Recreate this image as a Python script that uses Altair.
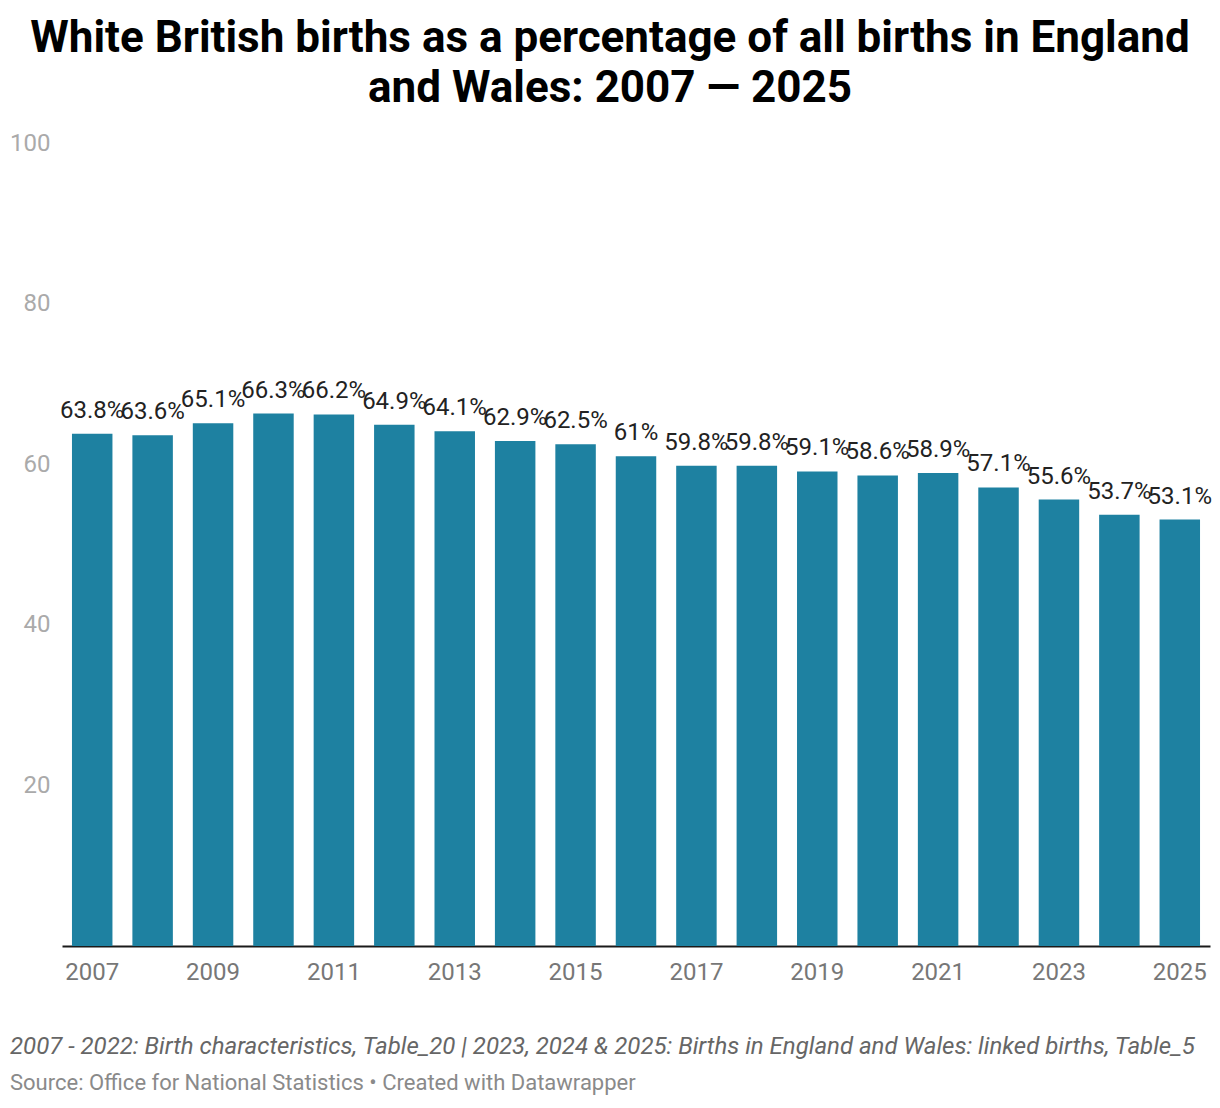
import pandas as pd
import altair as alt

# White British births as % of all births, England and Wales
years = [str(y) for y in range(2007, 2026)]
shares = [63.8, 63.6, 65.1, 66.3, 66.2, 64.9, 64.1, 62.9, 62.5, 61.0,
          59.8, 59.8, 59.1, 58.6, 58.9, 57.1, 55.6, 53.7, 53.1]
year_ticks = [str(y) for y in range(2007, 2026, 2)]
y_ticks = [20, 40, 60, 80, 100]

title_lines = ["White British births as a percentage of all births in England",
               "and Wales: 2007 \u2014 2025"]
note = ("2007 - 2022: Birth characteristics, Table_20 | 2023, 2024 & 2025: "
        "Births in England and Wales: linked births, Table_5")
source = "Source: Office for National Statistics \u2022 Created with Datawrapper"

df = pd.DataFrame({"Year": years, "Share": shares})
df["Label"] = df["Share"].map(lambda v: f"{v:g}%")

FONT = "Roboto"
W, H = 1148, 803

x = alt.X("Year:N", sort=years, title=None,
          scale=alt.Scale(paddingInner=0.33, paddingOuter=0.165),
          axis=alt.Axis(values=year_ticks, labelAngle=0, ticks=False,
                        domainColor="#1a1a1a", domainWidth=2,
                        labelColor="#777777", labelFontSize=24,
                        labelFont=FONT, labelPadding=14))
y = alt.Y("Share:Q", title=None,
          scale=alt.Scale(domain=[0, 100], nice=False),
          axis=alt.Axis(values=y_ticks, grid=False, domain=False, ticks=False,
                        labelColor="#aaaaaa", labelFontSize=24,
                        labelFont=FONT, labelPadding=12))

base = alt.Chart(df).encode(x=x, y=y)

bars = base.mark_bar(color="#1e81a1")

labels = base.mark_text(baseline="alphabetic", dy=-16, fontSize=24,
                        font=FONT, color="#222222").encode(text="Label:N")

note_text = alt.Chart(pd.DataFrame({"t": [note]})).mark_text(
    align="left", baseline="alphabetic", fontSize=24, font=FONT,
    fontStyle="italic", color="#666666"
).encode(text="t:N", x=alt.value(-52), y=alt.value(911))

source_text = alt.Chart(pd.DataFrame({"t": [source]})).mark_text(
    align="left", baseline="alphabetic", fontSize=22, font=FONT,
    color="#8a8a8a"
).encode(text="t:N", x=alt.value(-52), y=alt.value(947))

chart = alt.layer(bars, labels, note_text, source_text).properties(
    width=W,
    height=H,
    autosize=alt.AutoSizeParams(type="none"),
    padding={"left": 54, "top": 135, "right": 2, "bottom": 150},
    title=alt.Title(title_lines, anchor="middle", fontSize=44, font=FONT,
                    fontWeight="bold", color="#000000", lineHeight=50,
                    offset=20, dx=-26),
).configure_view(
    strokeWidth=0
)

chart.save("out.html", embed_options={"renderer": "svg", "actions": False})
